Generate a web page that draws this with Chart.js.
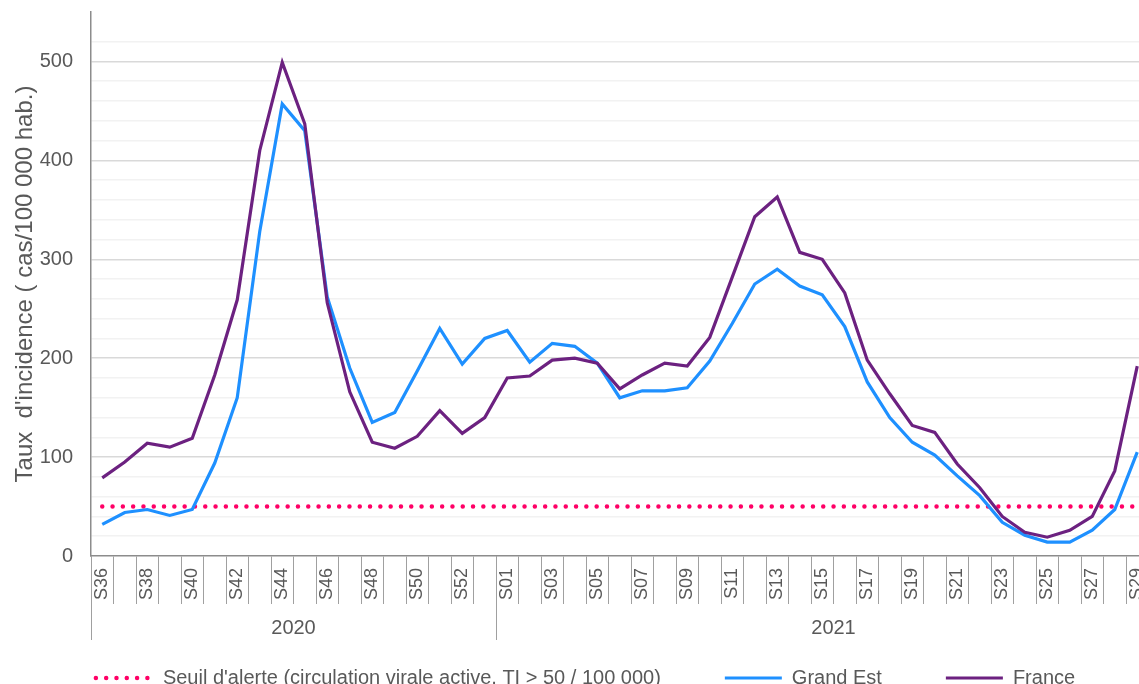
<!DOCTYPE html>
<html>
<head>
<meta charset="utf-8">
<script src="https://cdn.jsdelivr.net/npm/chart.js@4.4.1/dist/chart.umd.min.js"></script>
<style>
  html, body { margin: 0; padding: 0; background: #fff; overflow: hidden; }
  #wrap { width: 1172px; height: 698px; }
</style>
</head>
<body>
<div id="wrap"><canvas id="chart" width="1172" height="698"></canvas></div>
<script>
// weeks per year (S30 is cut off at the right edge of the picture)
const years = ['2020', '2021']
const weeks2020 = ['S36','S37','S38','S39','S40','S41','S42','S43','S44','S45','S46','S47','S48','S49','S50','S51','S52','S53']
const weeks2021 = ['S01','S02','S03','S04','S05','S06','S07','S08','S09','S10','S11','S12','S13','S14','S15','S16','S17','S18','S19','S20','S21','S22','S23','S24','S25','S26','S27','S28','S29','S30']
const weekLabels = weeks2020.concat(weeks2021)

// incidence rate (cases / 100 000 inhabitants)
const grandEst = [32, 44, 47, 41, 47, 94, 160, 328, 457, 430, 262, 190, 135, 145, 187, 230, 194, 220,
  228, 196, 215, 212, 195, 160, 167, 167, 170, 197, 235, 275, 290, 273, 264, 232, 176, 140, 115, 102, 81, 61, 34, 21, 14, 14, 26, 47, 105, null]
const france = [79, 95, 114, 110, 119, 183, 259, 410, 499, 437, 256, 166, 115, 109, 121, 147, 124, 140,
  180, 182, 198, 200, 195, 169, 183, 195, 192, 221, 282, 343, 363, 307, 300, 266, 198, 164, 132, 125, 93, 69, 40, 24, 19, 26, 40, 86, 192, null]
const seuil = 50
const seuilLine = weekLabels.map(() => seuil)

const textColor = '#595959'
const axisColor = '#8c8c8c'
const tickColor = '#a0a0a0'
const fontFamily = '"Liberation Sans", Arial, sans-serif'

// Year row under the week labels, positioned from the x scale
const yearRow = {
  id: 'yearRow',
  afterDraw(chart) {
    const xs = chart.scales.x
    const ctx = chart.ctx
    const half = (xs.getPixelForValue(1) - xs.getPixelForValue(0)) / 2
    const groups = [weeks2020.length, weeks2021.length]
    let start = 0
    ctx.save()
    ctx.strokeStyle = tickColor
    ctx.lineWidth = 1
    ctx.fillStyle = textColor
    ctx.font = '20px ' + fontFamily
    ctx.textAlign = 'center'
    ctx.textBaseline = 'middle'
    groups.forEach((n, k) => {
      const left = xs.getPixelForValue(start) - half
      const right = xs.getPixelForValue(start + n - 1) + half
      ctx.beginPath()
      ctx.moveTo(Math.round(left) + 0.5, xs.top)
      ctx.lineTo(Math.round(left) + 0.5, xs.top + 84)
      ctx.moveTo(Math.round(right) + 0.5, xs.top)
      ctx.lineTo(Math.round(right) + 0.5, xs.top + 84)
      ctx.stroke()
      ctx.fillText(years[k], (left + right) / 2, xs.top + 72)
      start += n
    })
    ctx.restore()
  }
}

// legend markers drawn as line samples, keeping the dataset dash and caps
function legendLabels(chart) {
  const items = Chart.defaults.plugins.legend.labels.generateLabels(chart)
  items.forEach(item => {
    const ds = chart.data.datasets[item.datasetIndex]
    item.strokeStyle = ds.borderColor
    item.lineWidth = ds.borderWidth
    item.lineDash = ds.borderDash || []
    item.lineCap = ds.borderCapStyle || 'butt'
    item.pointStyle = 'line'
  })
  return items
}

new Chart(document.getElementById('chart'), {
  type: 'line',
  data: {
    labels: weekLabels,
    datasets: [
      {
        label: "Seuil d'alerte (circulation virale active, TI > 50 / 100 000)",
        data: seuilLine,
        borderColor: '#ff0066',
        backgroundColor: '#ff0066',
        borderWidth: 4.5,
        borderDash: [0, 10.3],
        borderCapStyle: 'round',
        pointRadius: 0,
        order: 3
      },
      {
        label: 'Grand Est',
        data: grandEst,
        borderColor: '#1e90ff',
        backgroundColor: '#1e90ff',
        borderWidth: 3.2,
        pointRadius: 0,
        order: 2
      },
      {
        label: 'France',
        data: france,
        borderColor: '#6c2180',
        backgroundColor: '#6c2180',
        borderWidth: 3.2,
        pointRadius: 0,
        order: 1
      }
    ]
  },
  options: {
    responsive: false,
    animation: false,
    layout: { padding: { top: 12, right: 1, left: 0, bottom: 0 } },
    plugins: {
      tooltip: { enabled: false },
      legend: {
        position: 'bottom',
        labels: {
          usePointStyle: true,
          pointStyle: 'line',
          pointStyleWidth: 57,
          padding: 64,
          color: textColor,
          font: { family: fontFamily, size: 20 },
          generateLabels: legendLabels,
          sort: (a, b) => a.datasetIndex - b.datasetIndex
        }
      }
    },
    scales: {
      x: {
        offset: true,
        afterFit: s => { s.height = 48 },
        grid: { offset: true, drawOnChartArea: false, tickLength: 48, color: tickColor, lineWidth: 1 },
        border: { color: axisColor, width: 1.5 },
        ticks: {
          autoSkip: false,
          maxRotation: 90,
          minRotation: 90,
          padding: -36,
          color: textColor,
          font: { family: fontFamily, size: 18 },
          callback: (v, i) => i % 2 === 0 ? weekLabels[i] : ''
        }
      },
      y: {
        min: 0,
        max: 550,
        afterFit: s => { s.width = 91; s.paddingTop = 0; s.paddingBottom = 0 },
        grid: {
          drawTicks: false,
          color: ctx => {
            const v = ctx.tick.value
            if (v === 0) return 'rgba(0,0,0,0)'
            if (v % 100 === 0) return '#d9d9d9'
            if (v % 20 === 0) return '#f2f2f2'
            return 'rgba(0,0,0,0)'
          },
          lineWidth: 1.5
        },
        border: { color: axisColor, width: 1.5 },
        ticks: {
          stepSize: 20,
          autoSkip: false,
          padding: 18,
          color: textColor,
          font: { family: fontFamily, size: 20 },
          callback: v => v % 100 === 0 ? v : ''
        },
        title: {
          display: true,
          text: "Taux  d'incidence ( cas/100 000 hab.)",
          color: textColor,
          font: { family: fontFamily, size: 24 },
          padding: { top: 10.5, bottom: 0 }
        }
      }
    }
  },
  plugins: [yearRow]
})
</script>
</body>
</html>
